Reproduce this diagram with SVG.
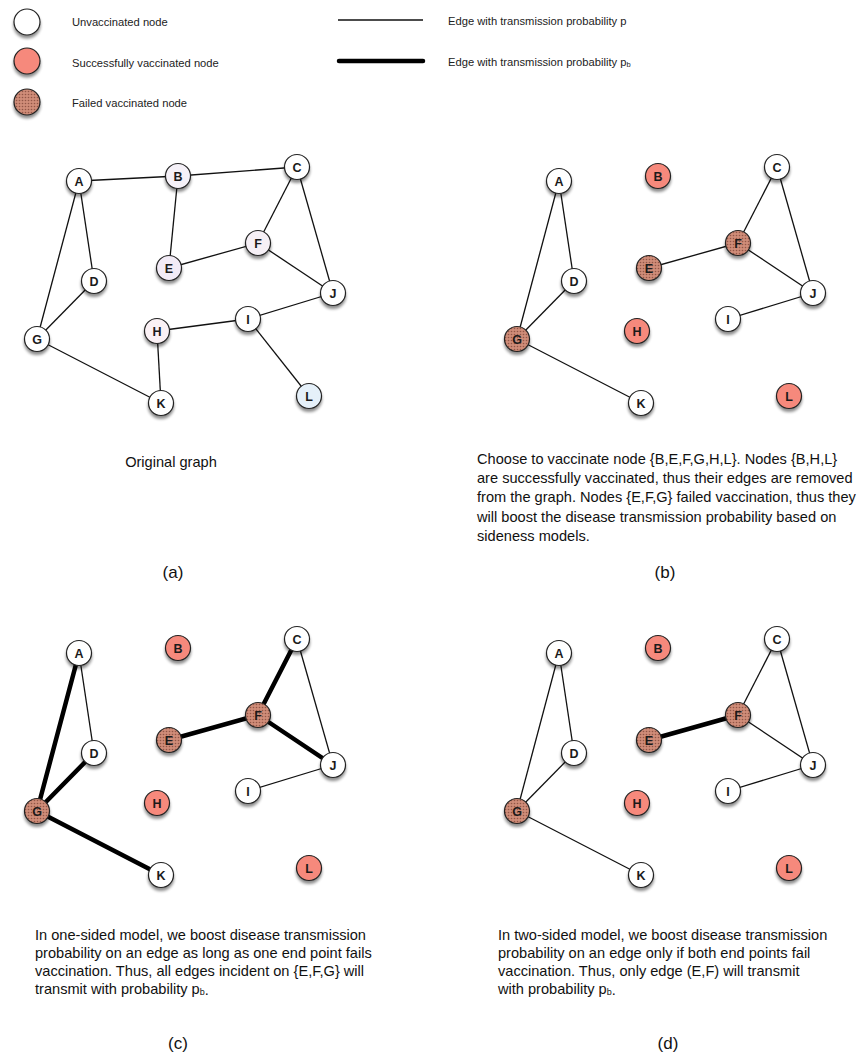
<svg xmlns="http://www.w3.org/2000/svg" width="860" height="1060" viewBox="0 0 860 1060">
<style>
text{font-family:"Liberation Sans",Arial,sans-serif;fill:#111}
.lg{font-size:11.2px;fill:#222}
.p{font-size:14.6px}
.cap{font-size:17px;text-anchor:middle}
.nd circle{stroke:#222;stroke-width:1.2;filter:url(#sh)}
.nd text{font-size:12.5px;text-anchor:middle;font-weight:bold;fill:#1a1a1a}
.u{fill:#fff}
.s{fill:#f6897b}
.f{fill:url(#dots)}
.e{stroke:#111;stroke-width:1.3;fill:none}
.t{stroke:#000;stroke-width:4.5;fill:none;stroke-linecap:round}
</style>
<defs>
<filter id="sh" x="-50%" y="-50%" width="200%" height="200%">
<feGaussianBlur in="SourceAlpha" stdDeviation="1.6"/>
<feOffset dx="0" dy="2.5" result="b"/>
<feComponentTransfer><feFuncA type="linear" slope="0.45"/></feComponentTransfer>
<feMerge><feMergeNode/><feMergeNode in="SourceGraphic"/></feMerge>
</filter>
<pattern id="dots" width="3" height="3" patternUnits="userSpaceOnUse">
<rect width="3" height="3" fill="#cf8c78"/>
<circle cx="1.5" cy="1.5" r="0.8" fill="#925646"/>
</pattern>
</defs>
<rect width="860" height="1060" fill="#fff"/>

<g id="legend">
<g class="nd" id="leg-unvacc"><circle class="u" cx="27" cy="22" r="13"/></g>
<g class="nd" id="leg-success"><circle class="s" cx="27" cy="61" r="13"/></g>
<g class="nd" id="leg-failed"><circle class="f" cx="27" cy="102" r="13"/></g>
<text class="lg" x="72" y="26">Unvaccinated node</text>
<text class="lg" x="72" y="67">Successfully vaccinated node</text>
<text class="lg" x="72" y="107">Failed vaccinated node</text>
<line class="e" x1="338" y1="20" x2="423" y2="20"/>
<line class="t" x1="339" y1="61" x2="423" y2="61"/>
<text class="lg" x="448" y="25">Edge with transmission probability p</text>
<text class="lg" x="448" y="66">Edge with transmission probability p<tspan font-size="7.5" dy="1">b</tspan></text>
</g>

<!-- Panel (a) -->
<g id="edges-a">
<line class="e" x1="79" y1="181" x2="178" y2="176"/>
<line class="e" x1="178" y1="176" x2="297" y2="167"/>
<line class="e" x1="79" y1="181" x2="94" y2="281"/>
<line class="e" x1="79" y1="181" x2="37" y2="339"/>
<line class="e" x1="94" y1="281" x2="37" y2="339"/>
<line class="e" x1="178" y1="176" x2="169" y2="268"/>
<line class="e" x1="169" y1="268" x2="258" y2="243"/>
<line class="e" x1="297" y1="167" x2="258" y2="243"/>
<line class="e" x1="297" y1="167" x2="333" y2="293"/>
<line class="e" x1="258" y1="243" x2="333" y2="293"/>
<line class="e" x1="333" y1="293" x2="248" y2="319"/>
<line class="e" x1="157" y1="331" x2="248" y2="319"/>
<line class="e" x1="157" y1="331" x2="161" y2="403"/>
<line class="e" x1="37" y1="339" x2="161" y2="403"/>
<line class="e" x1="248" y1="319" x2="309" y2="396"/>
</g>
<g id="nodes-a">
<g class="nd" id="a-A"><circle class="u" cx="79" cy="181" r="12.5"/><text x="79" y="185.5">A</text></g>
<g class="nd" id="a-B"><circle fill="#f5f1f8" cx="178" cy="176" r="12.5"/><text x="178" y="180.5">B</text></g>
<g class="nd" id="a-C"><circle class="u" cx="297" cy="167" r="12.5"/><text x="297" y="171.5">C</text></g>
<g class="nd" id="a-D"><circle class="u" cx="94" cy="281" r="12.5"/><text x="94" y="285.5">D</text></g>
<g class="nd" id="a-E"><circle fill="#f2ebf6" cx="169" cy="268" r="12.5"/><text x="169" y="272.5">E</text></g>
<g class="nd" id="a-F"><circle fill="#f6f0f6" cx="258" cy="243" r="12.5"/><text x="258" y="247.5">F</text></g>
<g class="nd" id="a-G"><circle class="u" cx="37" cy="339" r="12.5"/><text x="37" y="343.5">G</text></g>
<g class="nd" id="a-H"><circle fill="#fbf1f5" cx="157" cy="331" r="12.5"/><text x="157" y="335.5">H</text></g>
<g class="nd" id="a-I"><circle class="u" cx="248" cy="319" r="12.5"/><text x="248" y="323.5">I</text></g>
<g class="nd" id="a-J"><circle class="u" cx="333" cy="293" r="12.5"/><text x="333" y="297.5">J</text></g>
<g class="nd" id="a-K"><circle class="u" cx="161" cy="403" r="12.5"/><text x="161" y="407.5">K</text></g>
<g class="nd" id="a-L"><circle fill="#e5f0f9" cx="309" cy="396" r="12.5"/><text x="309" y="400.5">L</text></g>
</g>
<text class="p" x="171" y="467" text-anchor="middle">Original graph</text>
<text class="cap" x="173" y="578">(a)</text>

<!-- Panel (b) -->
<g id="edges-b" transform="translate(480,0)">
<line class="e" x1="79" y1="181" x2="94" y2="281"/>
<line class="e" x1="79" y1="181" x2="37" y2="339"/>
<line class="e" x1="94" y1="281" x2="37" y2="339"/>
<line class="e" x1="37" y1="339" x2="161" y2="403"/>
<line class="e" x1="169" y1="268" x2="258" y2="243"/>
<line class="e" x1="297" y1="167" x2="258" y2="243"/>
<line class="e" x1="297" y1="167" x2="333" y2="293"/>
<line class="e" x1="258" y1="243" x2="333" y2="293"/>
<line class="e" x1="333" y1="293" x2="248" y2="319"/>
</g>
<g id="nodes-b" transform="translate(480,0)">
<g class="nd" id="b-A"><circle class="u" cx="79" cy="181" r="12.5"/><text x="79" y="185.5">A</text></g>
<g class="nd" id="b-B"><circle class="s" cx="178" cy="176" r="12.5"/><text x="178" y="180.5">B</text></g>
<g class="nd" id="b-C"><circle class="u" cx="297" cy="167" r="12.5"/><text x="297" y="171.5">C</text></g>
<g class="nd" id="b-D"><circle class="u" cx="94" cy="281" r="12.5"/><text x="94" y="285.5">D</text></g>
<g class="nd" id="b-E"><circle class="f" cx="169" cy="268" r="12.5"/><text x="169" y="272.5">E</text></g>
<g class="nd" id="b-F"><circle class="f" cx="258" cy="243" r="12.5"/><text x="258" y="247.5">F</text></g>
<g class="nd" id="b-G"><circle class="f" cx="37" cy="339" r="12.5"/><text x="37" y="343.5">G</text></g>
<g class="nd" id="b-H"><circle class="s" cx="157" cy="331" r="12.5"/><text x="157" y="335.5">H</text></g>
<g class="nd" id="b-I"><circle class="u" cx="248" cy="319" r="12.5"/><text x="248" y="323.5">I</text></g>
<g class="nd" id="b-J"><circle class="u" cx="333" cy="293" r="12.5"/><text x="333" y="297.5">J</text></g>
<g class="nd" id="b-K"><circle class="u" cx="161" cy="403" r="12.5"/><text x="161" y="407.5">K</text></g>
<g class="nd" id="b-L"><circle class="s" cx="309" cy="396" r="12.5"/><text x="309" y="400.5">L</text></g>
</g>
<g class="p">
<text x="477" y="464">Choose to vaccinate node {B,E,F,G,H,L}. Nodes {B,H,L}</text>
<text x="477" y="483.2">are successfully vaccinated, thus their edges are removed</text>
<text x="477" y="502.4">from the graph. Nodes {E,F,G} failed vaccination, thus they</text>
<text x="477" y="521.6">will boost the disease transmission probability based on</text>
<text x="477" y="540.8">sideness models.</text>
</g>
<text class="cap" x="665" y="578">(b)</text>

<!-- Panel (c) -->
<g id="edges-c" transform="translate(0,472)">
<line class="e" x1="79" y1="181" x2="94" y2="281"/>
<line class="e" x1="297" y1="167" x2="333" y2="293"/>
<line class="e" x1="333" y1="293" x2="248" y2="319"/>
<line class="t" x1="79" y1="181" x2="37" y2="339"/>
<line class="t" x1="94" y1="281" x2="37" y2="339"/>
<line class="t" x1="37" y1="339" x2="161" y2="403"/>
<line class="t" x1="169" y1="268" x2="258" y2="243"/>
<line class="t" x1="297" y1="167" x2="258" y2="243"/>
<line class="t" x1="258" y1="243" x2="333" y2="293"/>
</g>
<g id="nodes-c" transform="translate(0,472)">
<g class="nd" id="c-A"><circle class="u" cx="79" cy="181" r="12.5"/><text x="79" y="185.5">A</text></g>
<g class="nd" id="c-B"><circle class="s" cx="178" cy="176" r="12.5"/><text x="178" y="180.5">B</text></g>
<g class="nd" id="c-C"><circle class="u" cx="297" cy="167" r="12.5"/><text x="297" y="171.5">C</text></g>
<g class="nd" id="c-D"><circle class="u" cx="94" cy="281" r="12.5"/><text x="94" y="285.5">D</text></g>
<g class="nd" id="c-E"><circle class="f" cx="169" cy="268" r="12.5"/><text x="169" y="272.5">E</text></g>
<g class="nd" id="c-F"><circle class="f" cx="258" cy="243" r="12.5"/><text x="258" y="247.5">F</text></g>
<g class="nd" id="c-G"><circle class="f" cx="37" cy="339" r="12.5"/><text x="37" y="343.5">G</text></g>
<g class="nd" id="c-H"><circle class="s" cx="157" cy="331" r="12.5"/><text x="157" y="335.5">H</text></g>
<g class="nd" id="c-I"><circle class="u" cx="248" cy="319" r="12.5"/><text x="248" y="323.5">I</text></g>
<g class="nd" id="c-J"><circle class="u" cx="333" cy="293" r="12.5"/><text x="333" y="297.5">J</text></g>
<g class="nd" id="c-K"><circle class="u" cx="161" cy="403" r="12.5"/><text x="161" y="407.5">K</text></g>
<g class="nd" id="c-L"><circle class="s" cx="309" cy="396" r="12.5"/><text x="309" y="400.5">L</text></g>
</g>
<g class="p">
<text x="35" y="940">In one-sided model, we boost disease transmission</text>
<text x="35" y="958">probability on an edge as long as one end point fails</text>
<text x="35" y="976">vaccination. Thus, all edges incident on {E,F,G} will</text>
<text x="35" y="994">transmit with probability p<tspan font-size="9" dy="1">b</tspan>.</text>
</g>
<text class="cap" x="178" y="1049">(c)</text>

<!-- Panel (d) -->
<g id="edges-d" transform="translate(480,472)">
<line class="e" x1="79" y1="181" x2="94" y2="281"/>
<line class="e" x1="79" y1="181" x2="37" y2="339"/>
<line class="e" x1="94" y1="281" x2="37" y2="339"/>
<line class="e" x1="37" y1="339" x2="161" y2="403"/>
<line class="t" x1="169" y1="268" x2="258" y2="243"/>
<line class="e" x1="297" y1="167" x2="258" y2="243"/>
<line class="e" x1="297" y1="167" x2="333" y2="293"/>
<line class="e" x1="258" y1="243" x2="333" y2="293"/>
<line class="e" x1="333" y1="293" x2="248" y2="319"/>
</g>
<g id="nodes-d" transform="translate(480,472)">
<g class="nd" id="d-A"><circle class="u" cx="79" cy="181" r="12.5"/><text x="79" y="185.5">A</text></g>
<g class="nd" id="d-B"><circle class="s" cx="178" cy="176" r="12.5"/><text x="178" y="180.5">B</text></g>
<g class="nd" id="d-C"><circle class="u" cx="297" cy="167" r="12.5"/><text x="297" y="171.5">C</text></g>
<g class="nd" id="d-D"><circle class="u" cx="94" cy="281" r="12.5"/><text x="94" y="285.5">D</text></g>
<g class="nd" id="d-E"><circle class="f" cx="169" cy="268" r="12.5"/><text x="169" y="272.5">E</text></g>
<g class="nd" id="d-F"><circle class="f" cx="258" cy="243" r="12.5"/><text x="258" y="247.5">F</text></g>
<g class="nd" id="d-G"><circle class="f" cx="37" cy="339" r="12.5"/><text x="37" y="343.5">G</text></g>
<g class="nd" id="d-H"><circle class="s" cx="157" cy="331" r="12.5"/><text x="157" y="335.5">H</text></g>
<g class="nd" id="d-I"><circle class="u" cx="248" cy="319" r="12.5"/><text x="248" y="323.5">I</text></g>
<g class="nd" id="d-J"><circle class="u" cx="333" cy="293" r="12.5"/><text x="333" y="297.5">J</text></g>
<g class="nd" id="d-K"><circle class="u" cx="161" cy="403" r="12.5"/><text x="161" y="407.5">K</text></g>
<g class="nd" id="d-L"><circle class="s" cx="309" cy="396" r="12.5"/><text x="309" y="400.5">L</text></g>
</g>
<g class="p">
<text x="498" y="940">In two-sided model, we boost disease transmission</text>
<text x="498" y="958">probability on an edge only if both end points fail</text>
<text x="498" y="976">vaccination. Thus, only edge (E,F) will transmit</text>
<text x="498" y="994">with probability p<tspan font-size="9" dy="1">b</tspan>.</text>
</g>
<text class="cap" x="668" y="1049">(d)</text>
</svg>
